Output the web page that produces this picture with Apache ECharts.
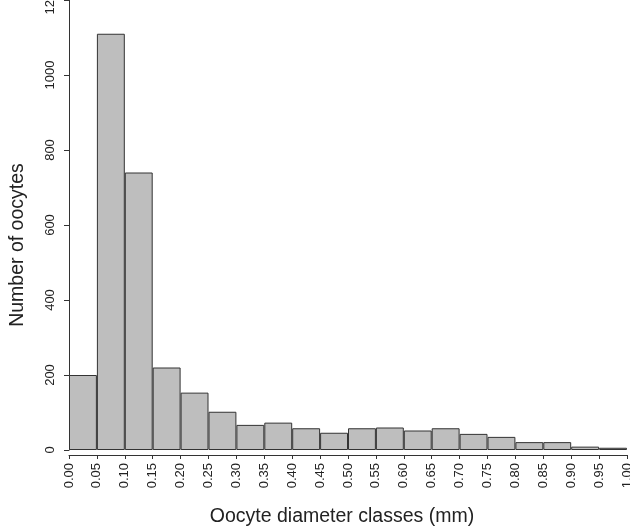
<!DOCTYPE html>
<html>
<head>
<meta charset="utf-8">
<script src="https://cdn.jsdelivr.net/npm/echarts@6/dist/echarts.min.js"></script>
<style>
html,body{margin:0;padding:0;background:#fff;}
#chart{width:630px;height:531px;}
</style>
</head>
<body>
<div id="chart"></div>
<script>
// Class lower bounds (mm) and counts
const classStarts = [0.00,0.05,0.10,0.15,0.20,0.25,0.30,0.35,0.40,0.45,0.50,0.55,0.60,0.65,0.70,0.75,0.80,0.85,0.90,0.95];
const counts = [200,1110,740,220,153,102,67,73,58,46,58,60,52,58,43,35,21,21,9,6];
const yTicks = [0,200,400,600,800,1000,1200];
const xTitle = 'Oocyte diameter classes (mm)';
const yTitle = 'Number of oocytes';

const FONT = '"Liberation Sans", Arial, Helvetica, sans-serif';
const chart = echarts.init(document.getElementById('chart'), null, {renderer:'canvas'});
const axisColor = '#333';
chart.setOption({
  animation: false,
  backgroundColor: '#fff',
  textStyle: {fontFamily: FONT},
  grid: {left: 69, right: 3, top: 0, bottom: 81, containLabel: false, outerBoundsMode: 'none'},
  xAxis: [
    {
      type: 'category',
      data: classStarts.map(v => v.toFixed(2)),
      show: false,
      boundaryGap: true
    },
    {
      type: 'value',
      min: 0, max: 1, interval: 0.05,
      position: 'bottom',
      offset: 5,
      splitLine: {show: false},
      axisLine: {show: true, lineStyle: {color: axisColor, width: 1}},
      axisTick: {show: true, length: 4, lineStyle: {color: axisColor}},
      axisLabel: {
        rotate: 90, margin: 8, fontSize: 13, color: '#222', fontFamily: FONT,
        showMinLabel: true, showMaxLabel: true,
        formatter: v => v.toFixed(2)
      },
      name: xTitle,
      nameLocation: 'middle',
      nameGap: 52,
      nameTextStyle: {fontSize: 19.5, color: '#222', fontFamily: FONT, padding: [0, 12, 0, 0]}
    }
  ],
  yAxis: {
    type: 'value',
    min: yTicks[0], max: yTicks[yTicks.length-1], interval: 200,
    offset: 7,
    splitLine: {show: false},
    axisLine: {show: true, lineStyle: {color: axisColor, width: 1}},
    axisTick: {show: true, length: 5, lineStyle: {color: axisColor}},
    axisLabel: {rotate: 90, margin: 5, fontSize: 13, color: '#222', fontFamily: FONT, formatter: v => String(v)},
    name: yTitle,
    nameLocation: 'middle',
    nameGap: 34,
    nameTextStyle: {fontSize: 19.5, color: '#222', fontFamily: FONT, padding: [0, 40, 0, 0]}
  },
  series: [{
    type: 'bar',
    xAxisIndex: 0,
    data: counts,
    barCategoryGap: '0%',
    barGap: '0%',
    itemStyle: {color: '#bebebe', borderColor: '#333', borderWidth: 1}
  }]
});
</script>
</body>
</html>
